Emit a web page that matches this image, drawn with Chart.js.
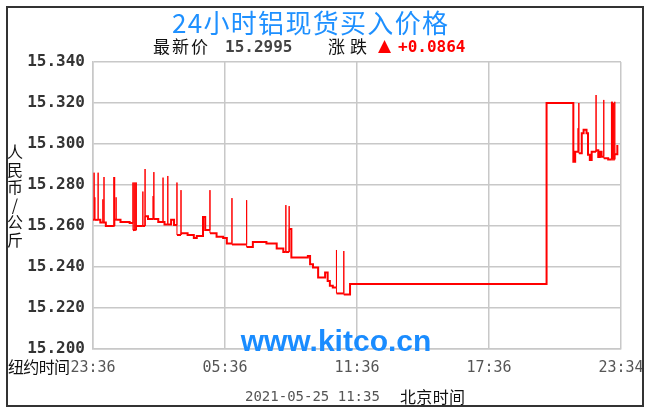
<!DOCTYPE html>
<html>
<head>
<meta charset="utf-8">
<script src="https://cdn.jsdelivr.net/npm/chart.js@4/dist/chart.umd.min.js"></script>
<style>
  html, body { margin: 0; padding: 0; background: #fff; }
  canvas { display: block; }
</style>
</head>
<body>
<canvas id="priceChart" width="654" height="416"></canvas>
<script>
// =============================
// DATA (minutes after 23:36 New York time)
// =============================
const xTickMinutes = [0, 360, 720, 1080, 1440];
const xTickLabels = ['23:36', '05:36', '11:36', '17:36', '23:34'];
const yTickValues = [15.2, 15.22, 15.24, 15.26, 15.28, 15.3, 15.32, 15.34];

// price level changes
const baseTimes = [0, 20, 35, 59, 75, 100, 109, 118, 142, 150, 178, 195, 213, 221, 229, 240, 258, 275, 283, 300,
  306, 319, 337, 355, 365, 379, 419, 436, 473, 501, 519, 535, 541, 586, 592, 600, 614, 633, 640, 646,
  654, 664, 684, 701, 1237, 1310, 1315, 1325, 1333, 1338, 1346, 1350, 1355, 1360, 1372, 1378, 1382, 1387,
  1393, 1405, 1423, 1430];
const baseValues = [15.263, 15.2617, 15.260, 15.2631, 15.2619, 15.2615, 15.258, 15.260, 15.2648, 15.2634,
  15.2619, 15.2607, 15.263, 15.2605, 15.2556, 15.2565, 15.2556, 15.2541, 15.2551, 15.2644,
  15.258, 15.2565, 15.2548, 15.2541, 15.2515, 15.251, 15.2497, 15.2522, 15.2515, 15.249,
  15.2473, 15.2585, 15.2446, 15.2454, 15.2414, 15.2397, 15.2349, 15.2373, 15.2332, 15.2308,
  15.2300, 15.2271, 15.2266, 15.2317, 15.320, 15.2914, 15.2962, 15.2955, 15.3053, 15.307,
  15.3053, 15.2947, 15.2922, 15.2962, 15.297, 15.2937, 15.2962, 15.2938, 15.293, 15.2925,
  15.295, 15.2995];

// short-lived quote spikes
const spikeTimes = [3, 5, 14, 27, 30, 57, 59, 63, 109, 112, 115, 118, 136, 142, 164, 166, 191, 204, 229, 240,
  319, 379, 419, 526, 535, 664, 684, 1323, 1325, 1372, 1393, 1414, 1417, 1420, 1423];
const spikeHighs = [15.286, 15.274, 15.286, 15.273, 15.2839, 15.2839, 15.2839, 15.274, 15.2812, 15.2812,
  15.2812, 15.2812, 15.2768, 15.2878, 15.2746, 15.2863, 15.2836, 15.2844, 15.2812, 15.2775,
  15.2775, 15.2736, 15.2726, 15.2702, 15.2697, 15.2483, 15.2478, 15.3077, 15.320, 15.3239,
  15.3215, 15.3206, 15.3206, 15.320, 15.3206];

const latestPrice = '15.2995';
const priceChange = '+0.0864';

// =============================
// HELPERS
// =============================
function buildPoints() {
  const pts = [];
  let i = 0, j = 0, cur = baseValues[0];
  while (i < baseTimes.length || j < spikeTimes.length) {
    const takeSpike = j < spikeTimes.length && (i >= baseTimes.length || spikeTimes[j] <= baseTimes[i]);
    if (takeSpike) {
      const t = spikeTimes[j];
      pts.push({ x: t, y: cur }, { x: t, y: spikeHighs[j] }, { x: t, y: cur });
      j++;
    } else {
      cur = baseValues[i];
      pts.push({ x: baseTimes[i], y: cur });
      i++;
    }
  }
  return pts;
}

// draw text char by char so it fills a given width
function fitText(ctx, text, x, y, width) {
  const chars = [...text];
  const widths = chars.map(ch => ctx.measureText(ch).width);
  const total = widths.reduce((a, b) => a + b, 0);
  const gap = chars.length > 1 ? (width - total) / (chars.length - 1) : 0;
  chars.forEach((ch, k) => {
    ctx.fillText(ch, x, y);
    x += widths[k] + gap;
  });
}

const CJK = '"Noto Sans CJK SC", sans-serif';
const MONO = '"DejaVu Sans Mono", monospace';

// =============================
// TEXT + FRAME
// =============================
const decor = {
  id: 'decor',
  afterDraw(chart) {
    const ctx = chart.ctx;
    ctx.save();
    ctx.textBaseline = 'middle';
    ctx.textAlign = 'left';

    // title
    ctx.fillStyle = '#1e90ff';
    ctx.font = '26px ' + CJK;
    fitText(ctx, '24小时铝现货买入价格', 172, 23, 276);

    // latest / change line
    ctx.fillStyle = '#111';
    ctx.font = '17px ' + CJK;
    fitText(ctx, '最新价', 153, 47, 55);
    ctx.fillStyle = '#444';
    ctx.font = 'bold 16px ' + MONO;
    ctx.fillText(latestPrice, 225, 48);
    ctx.fillStyle = '#111';
    ctx.font = '17px ' + CJK;
    fitText(ctx, '涨跌', 328, 47, 39);
    ctx.fillStyle = '#ff0000';
    ctx.font = '17px "DejaVu Sans", sans-serif';
    ctx.fillText('▲', 378, 47);
    ctx.font = 'bold 16px ' + MONO;
    ctx.fillText(priceChange, 398, 48);

    // y axis label, stacked
    ctx.fillStyle = '#111';
    ctx.font = '16px ' + CJK;
    ctx.textAlign = 'center';
    ['人', '民', '币', '/', '公', '斤'].forEach((ch, k) => {
      ctx.fillText(ch, 15, 152 + k * 17.6);
    });

    // x axis extras
    ctx.textAlign = 'left';
    ctx.font = '16px ' + CJK;
    fitText(ctx, '纽约时间', 8, 367, 62);
    ctx.fillStyle = '#555';
    ctx.font = '14px ' + MONO;
    ctx.fillText('2021-05-25 11:35', 245, 397);
    ctx.fillStyle = '#111';
    ctx.font = '16px ' + CJK;
    fitText(ctx, '北京时间', 400, 397, 65);

    // watermark
    ctx.fillStyle = '#1a8cff';
    ctx.font = 'bold 30px "Liberation Sans", Arial, sans-serif';
    ctx.textAlign = 'center';
    ctx.textBaseline = 'alphabetic';
    ctx.fillText('www.kitco.cn', 336, 351);

    // outer frame
    ctx.strokeStyle = '#333';
    ctx.lineWidth = 2;
    ctx.strokeRect(7, 7, 636, 399);
    ctx.restore();
  }
};

// =============================
// CHART
// =============================
const gridColor = '#c8c8c8';

new Chart(document.getElementById('priceChart'), {
  type: 'line',
  data: {
    datasets: [{
      data: buildPoints(),
      borderColor: '#ff0000',
      borderWidth: 2,
      pointRadius: 0,
      stepped: true,
      fill: false,
      segment: {
        borderWidth: c => (c.p0.parsed.x === c.p1.parsed.x ? 1 : 2)
      }
    }]
  },
  options: {
    responsive: false,
    animation: false,
    devicePixelRatio: 1,
    layout: { padding: { top: 62, right: 33, left: 0, bottom: 0 } },
    plugins: { legend: { display: false }, tooltip: { enabled: false } },
    scales: {
      x: {
        type: 'linear',
        min: 0,
        max: 1440,
        afterBuildTicks: s => { s.ticks = xTickMinutes.map(v => ({ value: v })); },
        afterFit: s => { s.height = 67; },
        ticks: {
          autoSkip: false,
          maxRotation: 0,
          padding: 10,
          color: '#555',
          font: { family: 'DejaVu Sans Mono', size: 15 },
          callback: (v, i) => xTickLabels[i]
        },
        grid: { color: gridColor, lineWidth: 1.5, drawTicks: false },
        border: { color: gridColor, width: 1.5 }
      },
      y: {
        min: 15.2,
        max: 15.34,
        afterBuildTicks: s => { s.ticks = yTickValues.map(v => ({ value: v })); },
        afterFit: s => { s.width = 93; },
        ticks: {
          padding: 8,
          color: '#333',
          font: { family: 'DejaVu Sans Mono', size: 16, weight: 'bold' },
          callback: v => Number(v).toFixed(3)
        },
        grid: { color: gridColor, lineWidth: 1.5, drawTicks: false },
        border: { color: gridColor, width: 1.5 }
      }
    }
  },
  plugins: [decor]
});
</script>
</body>
</html>
